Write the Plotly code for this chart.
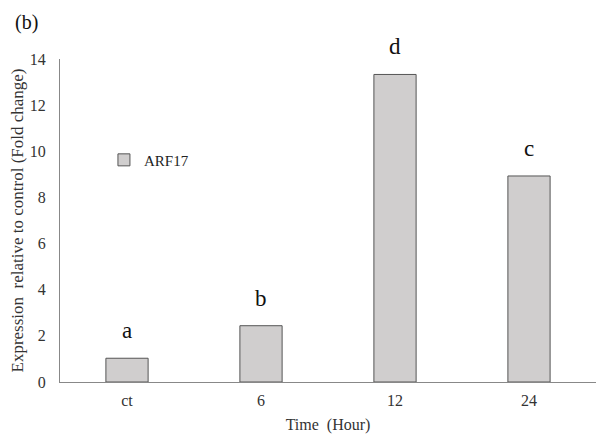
import plotly.graph_objects as go

categories = ["ct", "6", "12", "24"]
values = [1.03, 2.44, 13.33, 8.93]
letters = ["a", "b", "d", "c"]
series_name = "ARF17"
y_ticks = [0, 2, 4, 6, 8, 10, 12, 14]

FONT = "Liberation Serif, Times New Roman, serif"

fig = go.Figure()
fig.add_trace(go.Bar(
    x=categories, y=values, name=series_name,
    marker=dict(color="#d0cece", line=dict(color="#555555", width=1)),
    width=0.315, showlegend=True,
))

for i, (v, l) in enumerate(zip(values, letters)):
    fig.add_annotation(x=i, y=v, text=l, showarrow=False, yanchor="bottom",
                       yshift=13, font=dict(family=FONT, size=23, color="#111111"))

fig.add_annotation(xref="paper", yref="paper", x=-0.088, y=1.155, text="(b)",
                   showarrow=False, xanchor="left", yanchor="top",
                   font=dict(family=FONT, size=20, color="#111111"))

# page body has an 8px margin, so the figure is sized/offset to compensate
fig.update_layout(
    width=596, height=429,
    margin=dict(l=52, r=8, t=51, b=55),
    paper_bgcolor="white", plot_bgcolor="white",
    font=dict(family=FONT, size=16, color="#333333"),
    legend=dict(x=0.082, y=0.687, xanchor="left", yanchor="middle",
                bgcolor="rgba(0,0,0,0)", font=dict(family=FONT, size=15, color="#222222"),
                itemwidth=30),
    xaxis=dict(type="category", range=[-0.5, 3.5], showline=True, linecolor="#888888",
               linewidth=1, ticks="", ticklabelstandoff=4, automargin=False,
               title=dict(text="Time  (Hour)", font=dict(family=FONT, size=16), standoff=10),
               tickfont=dict(family=FONT, size=16), showgrid=False),
    yaxis=dict(range=[0, 14], tickvals=y_ticks, showline=True, linecolor="#888888",
               linewidth=1, ticks="", showgrid=False, zeroline=False, automargin=False,
               tickfont=dict(family=FONT, size=16), ticklabelstandoff=10,
               title=dict(text="Expression  relative to control (Fold change)",
                          font=dict(family=FONT, size=17), standoff=6)),
    bargap=0.6,
)

fig.write_html("out.html")
